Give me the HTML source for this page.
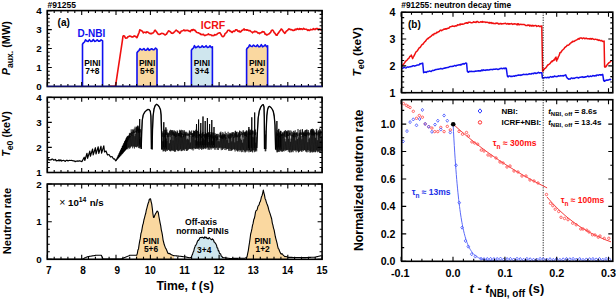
<!DOCTYPE html>
<html><head><meta charset="utf-8"><style>
html,body{margin:0;padding:0;background:#fff;width:616px;height:300px;overflow:hidden;position:relative}
</style></head><body>
<svg width="616" height="300" viewBox="0 0 616 300" style="position:absolute;left:0;top:0">
<g font-family='"Liberation Sans", sans-serif' font-weight="bold">
<path d="M82.5 86.5 L82.5 44.3 L83.5 42.8 L84.5 42 L85.5 39.8 L86.8 41.1 L88.1 41.5 L89.4 39.6 L90.7 41.4 L92 41.3 L93.3 39.5 L94.6 41.4 L95.9 41 L97.2 39.8 L98.5 41.1 L99.8 41.1 L101.1 39.8 L102.6 40.8 L102.6 86.5" fill="none" stroke="#1010F0" stroke-width="1.6" stroke-linejoin="round"/>
<path d="M137 86.5 L137 52.8 L138 51.3 L139 50.5 L140 48.7 L141.3 49.6 L142.6 49.7 L143.9 48.5 L145.2 50.3 L146.5 50 L147.8 48.3 L149.1 50.3 L150.4 49.5 L151.7 48.7 L153 49.7 L154.3 49.6 L155.6 48.1 L157 49.3 L157 86.5" fill="#FAD8A0" stroke="#1010F0" stroke-width="1.6" stroke-linejoin="round"/>
<path d="M191.4 86.5 L191.4 50.3 L192.4 48.8 L193.4 48 L194.4 45.7 L195.7 47.7 L197 47.1 L198.3 46 L199.6 47.5 L200.9 47.3 L202.2 45.9 L203.5 47.1 L204.8 47 L206.1 45.7 L207.4 47.5 L208.7 47.3 L210 45.8 L211.3 47.5 L212.4 46.8 L212.4 86.5" fill="#CFE6EE" stroke="#1010F0" stroke-width="1.6" stroke-linejoin="round"/>
<path d="M246.6 86.5 L246.6 49.3 L247.6 47.8 L248.6 47 L249.6 44.9 L250.9 46.2 L252.2 46.6 L253.5 45.1 L254.8 46.2 L256.1 46.5 L257.4 44.9 L258.7 46.7 L260 46.6 L261.3 44.7 L262.6 46.8 L263.9 46.1 L265.2 44.8 L266.5 46.6 L267.6 45.8 L267.6 86.5" fill="#FAD8A0" stroke="#1010F0" stroke-width="1.6" stroke-linejoin="round"/>
<path d="M109.7 86.3 L110.4 86.3 L111.1 86.3 L111.8 86.3 L112.5 86.3 L113.2 86.3 L113.9 86.3 L114.6 86.3 L115.3 86.3 L116 83 L116.7 78.3 L117.4 73.7 L118.1 69 L118.8 64.4 L119.5 59.8 L120.2 55.1 L120.9 50.5 L121.6 45.8 L122.3 41.2 L123 36.1 L123.7 35.7 L124.4 35.9 L125.1 37.4 L125.8 38.3 L126.5 38 L127.2 37.9 L127.9 36.7 L128.6 36.7 L129.3 36.1 L130 36.1 L130.7 36.2 L131.4 36.8 L132.1 37.1 L132.8 36.7 L133.5 36.8 L134.2 35.8 L134.9 36.3 L135.6 36.3 L136.3 37.3 L137 37.7 L137.7 35.9 L138.4 34.1 L139.1 32.5 L139.8 29.8 L140.5 30.2 L141.2 30.4 L141.9 31 L142.6 31.5 L143.3 33 L144 32.3 L144.7 32.3 L145.4 32.4 L146.1 32.9 L146.8 31.8 L147.5 32.1 L148.2 32.2 L148.9 33 L149.6 33.3 L150.3 33.7 L151 33.4 L151.7 33.8 L152.4 33 L153.1 33 L153.8 32.3 L154.5 30.7 L155.2 30.2 L155.9 31.1 L156.6 31.9 L157.3 33.1 L158 34 L158.7 34.4 L159.4 34.4 L160.1 34.3 L160.8 33.7 L161.5 33.4 L162.2 33.4 L162.9 33.6 L163.6 33.8 L164.3 34.4 L165 35 L165.7 34.5 L166.4 34.3 L167.1 33 L167.8 32 L168.5 30.9 L169.2 31 L169.9 31.6 L170.6 31.9 L171.3 33.1 L172 33 L172.7 33.4 L173.4 32.9 L174.1 32.1 L174.8 31.6 L175.5 30.6 L176.2 30 L176.9 30.7 L177.6 31.1 L178.3 31.9 L179 32 L179.7 33.4 L180.4 32.5 L181.1 31.3 L181.8 30.9 L182.5 30.7 L183.2 30.4 L183.9 29.9 L184.6 30.6 L185.3 30.7 L186 30.3 L186.7 30.5 L187.4 30.2 L188.1 30.5 L188.8 31 L189.5 31.1 L190.2 31.8 L190.9 30.5 L191.6 29.9 L192.3 30.5 L193 29.5 L193.7 29.5 L194.4 30.4 L195.1 30.2 L195.8 31.3 L196.5 32.3 L197.2 32.6 L197.9 32.8 L198.6 32.8 L199.3 33.4 L200 33.6 L200.7 34.5 L201.4 34.3 L202.1 34.8 L202.8 34.4 L203.5 34.4 L204.2 35.2 L204.9 35.6 L205.6 35.2 L206.3 34.9 L207 34.7 L207.7 34.4 L208.4 33.9 L209.1 34.6 L209.8 34.7 L210.5 34.7 L211.2 35 L211.9 35.7 L212.6 35.4 L213.3 35.6 L214 35.5 L214.7 34.6 L215.4 34.9 L216.1 34.8 L216.8 34.5 L217.5 33.6 L218.2 33.2 L218.9 33 L219.6 32.8 L220.3 33 L221 34.5 L221.7 35.7 L222.4 36.6 L223.1 36.8 L223.8 36.1 L224.5 35.3 L225.2 33.4 L225.9 33.1 L226.6 32.5 L227.3 31.3 L228 30.3 L228.7 30.3 L229.4 30.3 L230.1 31.4 L230.8 31.2 L231.5 32.1 L232.2 32.5 L232.9 31.4 L233.6 31.1 L234.3 31.4 L235 30.8 L235.7 29.8 L236.4 29.7 L237.1 30 L237.8 31.2 L238.5 31.4 L239.2 30.9 L239.9 32 L240.6 31.9 L241.3 31.1 L242 30.4 L242.7 30.3 L243.4 29.4 L244.1 28.9 L244.8 30.1 L245.5 29.8 L246.2 29.7 L246.9 30.3 L247.6 29.8 L248.3 30.3 L249 30.8 L249.7 30.5 L250.4 31 L251.1 31.6 L251.8 32 L252.5 32.8 L253.2 32 L253.9 31.9 L254.6 31.2 L255.3 31.8 L256 31.5 L256.7 31.9 L257.4 32.4 L258.1 33.1 L258.8 32.9 L259.5 33.6 L260.2 32.9 L260.9 32.7 L261.6 32.5 L262.3 31.6 L263 31.9 L263.7 31.7 L264.4 32.3 L265.1 34.1 L265.8 34.1 L266.5 34.9 L267.2 34.9 L267.9 34.5 L268.6 33.9 L269.3 33.7 L270 32.9 L270.7 32.3 L271.4 30.6 L272.1 30.3 L272.8 30.1 L273.5 31.1 L274.2 32.6 L274.9 33.2 L275.6 34.2 L276.3 35.3 L277 35.3 L277.7 33.8 L278.4 33.1 L279.1 32 L279.8 31 L280.5 30.3 L281.2 29 L281.9 29.5 L282.6 30.3 L283.3 31.7 L284 32.3 L284.7 33.3 L285.4 32.9 L286.1 31.3 L286.8 30.8 L287.5 30.5 L288.2 29.6 L288.9 28.9 L289.6 29.1 L290.3 29.7 L291 29.5 L291.7 29.9 L292.4 30 L293.1 30.5 L293.8 30.4 L294.5 30.3 L295.2 29.2 L295.9 29.7 L296.6 29.4 L297.3 28.6 L298 29.3 L298.7 29.4 L299.4 28.5 L300.1 29.3 L300.8 28.7 L301.5 28.8 L302.2 29.4 L302.9 29.2 L303.6 28.4 L304.3 29 L305 29.3 L305.7 29.3 L306.4 29.3 L307.1 29.7 L307.8 30.4 L308.5 29.8 L309.2 30.5 L309.9 30.2 L310.6 29.4 L311.3 29.6 L312 29.7 L312.7 29.4 L313.4 28.6 L314.1 29.5 L314.8 29.2 L315.5 29.5 L316.2 28.5 L316.9 28.8 L317.6 28.6 L318.3 29.6 L319 29.1 L319.7 29 L320.4 29.4 L321.1 29.9 L321.8 29.7" fill="none" stroke="#F01010" stroke-width="1.6" stroke-linejoin="round"/>
<path d="M47.3 86.5V82M47.3 10.6V15.1M54.2 86.5V84M54.2 10.6V13.1M61 86.5V84M61 10.6V13.1M67.9 86.5V84M67.9 10.6V13.1M74.8 86.5V84M74.8 10.6V13.1M81.7 86.5V82M81.7 10.6V15.1M88.5 86.5V84M88.5 10.6V13.1M95.4 86.5V84M95.4 10.6V13.1M102.3 86.5V84M102.3 10.6V13.1M109.1 86.5V84M109.1 10.6V13.1M116 86.5V82M116 10.6V15.1M122.9 86.5V84M122.9 10.6V13.1M129.7 86.5V84M129.7 10.6V13.1M136.6 86.5V84M136.6 10.6V13.1M143.5 86.5V84M143.5 10.6V13.1M150.4 86.5V82M150.4 10.6V15.1M157.2 86.5V84M157.2 10.6V13.1M164.1 86.5V84M164.1 10.6V13.1M171 86.5V84M171 10.6V13.1M177.8 86.5V84M177.8 10.6V13.1M184.7 86.5V82M184.7 10.6V15.1M191.6 86.5V84M191.6 10.6V13.1M198.4 86.5V84M198.4 10.6V13.1M205.3 86.5V84M205.3 10.6V13.1M212.2 86.5V84M212.2 10.6V13.1M219.1 86.5V82M219.1 10.6V15.1M225.9 86.5V84M225.9 10.6V13.1M232.8 86.5V84M232.8 10.6V13.1M239.7 86.5V84M239.7 10.6V13.1M246.5 86.5V84M246.5 10.6V13.1M253.4 86.5V82M253.4 10.6V15.1M260.3 86.5V84M260.3 10.6V13.1M267.1 86.5V84M267.1 10.6V13.1M274 86.5V84M274 10.6V13.1M280.9 86.5V84M280.9 10.6V13.1M287.8 86.5V82M287.8 10.6V15.1M294.6 86.5V84M294.6 10.6V13.1M301.5 86.5V84M301.5 10.6V13.1M308.4 86.5V84M308.4 10.6V13.1M315.2 86.5V84M315.2 10.6V13.1M322.1 86.5V82M322.1 10.6V15.1M47.3 86.5H51.8M322.1 86.5H317.6M47.3 82.7H49.8M322.1 82.7H319.6M47.3 78.9H49.8M322.1 78.9H319.6M47.3 75.1H49.8M322.1 75.1H319.6M47.3 71.3H49.8M322.1 71.3H319.6M47.3 67.5H51.8M322.1 67.5H317.6M47.3 63.7H49.8M322.1 63.7H319.6M47.3 59.9H49.8M322.1 59.9H319.6M47.3 56.1H49.8M322.1 56.1H319.6M47.3 52.3H49.8M322.1 52.3H319.6M47.3 48.5H51.8M322.1 48.5H317.6M47.3 44.8H49.8M322.1 44.8H319.6M47.3 41H49.8M322.1 41H319.6M47.3 37.2H49.8M322.1 37.2H319.6M47.3 33.4H49.8M322.1 33.4H319.6M47.3 29.6H51.8M322.1 29.6H317.6M47.3 25.8H49.8M322.1 25.8H319.6M47.3 22H49.8M322.1 22H319.6M47.3 18.2H49.8M322.1 18.2H319.6M47.3 14.4H49.8M322.1 14.4H319.6M47.3 10.6H51.8M322.1 10.6H317.6" stroke="#000" stroke-width="1.1" fill="none"/>
<rect x="47.3" y="10.6" width="274.8" height="75.9" fill="none" stroke="#000" stroke-width="1.6"/>
<text x="41.6" y="90" font-size="9.8" text-anchor="end">0</text>
<text x="41.6" y="71" font-size="9.8" text-anchor="end">1</text>
<text x="41.6" y="52" font-size="9.8" text-anchor="end">2</text>
<text x="41.6" y="33.1" font-size="9.8" text-anchor="end">3</text>
<text x="41.6" y="14.1" font-size="9.8" text-anchor="end">4</text>
<path d="M47.3 86.2H322.1" stroke="#1818b0" stroke-width="0.9"/>
<text x="57.6" y="25.8" font-size="10" font-weight="normal" style="font-weight:bold">(a)</text>
<text x="91.3" y="37.2" font-size="10" fill="#1010F0" text-anchor="middle">D-NBI</text>
<text x="213" y="29.1" font-size="10.5" fill="#F01010" text-anchor="middle">ICRF</text>
<text x="92.4" y="66.4" font-size="8.4" text-anchor="middle">PINI</text><text x="92.4" y="74.2" font-size="8.4" text-anchor="middle">7+8</text>
<text x="147.1" y="66.4" font-size="8.4" text-anchor="middle">PINI</text><text x="147.1" y="74.2" font-size="8.4" text-anchor="middle">5+6</text>
<text x="201.9" y="66.4" font-size="8.4" text-anchor="middle">PINI</text><text x="201.9" y="74.2" font-size="8.4" text-anchor="middle">3+4</text>
<text x="257.1" y="66.4" font-size="8.4" text-anchor="middle">PINI</text><text x="257.1" y="74.2" font-size="8.4" text-anchor="middle">1+2</text>
<text x="47.5" y="7.6" font-size="8.5">#91255</text>
<path d="M47.3 158.9 L48.2 158.8 L49.1 160.1 L50 159.7 L50.9 160 L51.8 159.1 L52.7 159.1 L53.6 160.2 L54.5 159.9 L55.4 159.4 L56.3 160.9 L57.2 160.5 L58.1 160.8 L59 159.7 L59.9 161 L60.8 159.8 L61.7 161.1 L62.6 160.5 L63.5 160.4 L64.4 160.8 L65.3 161.4 L66.2 160.4 L67.1 160.3 L68 161 L68.9 160.5 L69.8 160.4 L70.7 160.5 L71.6 160.4 L72.5 160.7 L73.4 160.9 L74.3 160.9 L75.2 161.7 L76.1 161 L77 161.3 L77.9 160.9 L78.8 161.2 L79.7 160.7 L80.6 161.1 L82 161.6 L84.2 157.2 L84.8 160.5 L87 153.3 L87.6 158.3 L89.8 151.1 L90.4 156.2 L92.6 149 L93.2 154.9 L95.4 147.7 L96 154 L98.2 146.8 L98.8 153.4 L101 146.2 L101.6 153.1 L103.8 145.9 L104.5 152 L106 151 L107.5 155 L109 154.5 L110.5 157 L112 156.5 L113.5 159 L114.5 158.8 L115.8 160.8 L116.2 160.5 L116.7 158.9 L117 159.5 L117.5 157.1 L117.8 158.6 L118.3 155.4 L118.6 157.7 L119.1 153.7 L119.4 156.7 L119.9 151.9 L120.2 155.8 L120.7 150.2 L121 154.9 L121.5 148.5 L121.8 153.9 L122.3 146.7 L122.6 153.1 L123.1 145.1 L123.4 152.2 L123.9 143.4 L124.2 151.3 L124.7 141.7 L125 150.4 L125.5 140 L125.8 149.5 L126.3 138.3 L126.6 148.7 L127.1 136.7" fill="none" stroke="#000" stroke-width="1.2" stroke-linejoin="round"/>
<path d="M127.1 136.7 L127 138 L127.3 148.5 L127.6 135.9 L127.9 149.3 L128.2 136.1 L128.5 147.7 L128.8 135.1 L129.1 147.4 L129.4 133.4 L129.7 148.8 L130 132.8 L130.3 147.8 L130.6 136.2 L130.9 146.9 L131.2 129.4 L131.5 146.2 L131.8 134.6 L132.1 146.4 L132.4 131.7 L132.7 148.3 L133 134.3 L133.3 146.6 L133.6 129.6 L133.9 146.4 L134.2 128.6 L134.5 148.5 L134.8 136.2 L135.1 146.6 L135.4 133.7 L135.7 146.9 L136 128.1 L136.3 147.2 L136.6 127.1 L136.9 147.3 L137.2 127.1 L137.5 146.4 L137.8 125.9 L138.1 146.4 L138.4 126.5 L138.7 148 L139 128.9 L139.3 148.4 L139.6 139.2 L139.9 147.8 L140.2 130.5 L140.5 147.4 L140.8 137.3 L141.1 147.3 L141.2 149 L141.7 132 L142.3 120 L143.2 115 L144.6 112.3 L146.2 110.6 L147.8 109.5 L149.2 109.6 L150.3 111.3 L150.9 116 L151.2 130 L151.4 149 L151.8 141 L152.1 149.9 L152.1 149 L152.5 130 L153.1 116 L154 109 L155.2 105.5 L156.6 104.3 L158 105.2 L159.4 107.2 L160.5 109.8 L161.1 115 L161.5 130 L161.8 149.5 L162.2 141.3 L162.5 149.6 L162.8 131.4 L163.1 151.5 L163.4 141.5 L163.7 150.9 L164 140.2 L164.3 151.2 L164.6 129.7 L164.9 149.8 L165.2 130 L165.5 151.7 L165.8 132.2 L166.1 151.2 L166.4 138.5 L166.7 149.7 L167 141.1 L167.3 151 L167.6 132.4 L167.9 149.8 L168.2 136.2 L168.5 149.8 L168.8 132.7 L169.1 150.1 L169.4 143.3 L169.7 150.9 L170 131.7 L170.3 151.3 L170.6 139.8 L170.9 151.2 L171.2 130.4 L171.5 150.1 L171.8 136.7 L172.1 150.9 L172.4 130 L172.7 150.1 L173 140.4 L173.3 151.1 L173.6 131.9 L173.9 150.5 L174.2 130.3 L174.5 151.6 L174.8 133.7 L175.1 151.7 L175.4 131.6 L175.7 151.4 L176 138 L176.3 149.9 L176.6 133.6 L176.9 149.7 L177.2 130.4 L177.5 150.5 L177.8 135 L178.1 151.2 L178.4 133.3 L178.7 150.9 L179 133.4 L179.3 150.3 L179.6 129.8 L179.9 150.3 L180.2 131 L180.5 149.3 L180.8 131.1 L181.1 151.1 L181.4 132.8 L181.7 151.1 L182 133.5 L182.3 150.7 L182.6 136.4 L182.9 149.8 L183.2 133.8 L183.5 150.3 L183.8 131.5 L184.1 149.5 L184.4 130.2 L184.7 150.9 L185 133.5 L185.3 149.3 L185.6 131.8 L185.9 149.1 L186.2 133.6 L186.5 150.9 L186.8 139.5 L187.1 150.9 L187.4 138.7 L187.7 150.3 L188 132.7 L188.3 149.6 L188.6 139.5 L188.9 149.1 L189.2 133.5 L189.5 148.6 L189.8 131.2 L190.1 149 L190.4 142.5 L190.7 148.8 L191 136.3 L191.3 149.5 L191.6 130.5 L191.9 148.5 L192.2 133.4 L192.5 149.3 L192.8 133.4 L193.1 150.5 L193.4 130.4 L193.7 148.4 L194 131.2 L194.3 148 L194.6 130.8 L194.9 149.2 L195.2 140.2 L195.5 148.8 L195.8 132 L196.1 148.7 L196.4 130.2 L196.7 148.4 L197 134.9 L197.3 149 L197.6 141.3 L197.9 148.2 L198.2 131.2 L198.5 148.7 L198.8 134.1 L199.1 149.8 L199.4 134.3 L199.7 147.7 L200 141.7 L200.3 148.8 L200.6 130.5 L200.9 148.6 L201.2 141.2 L201.5 149.8 L201.8 136.4 L202.1 147.8 L202.4 132.8 L202.7 149.3 L203 140.4 L203.3 149.2 L203.6 138.3 L203.9 148.9 L204.2 134.1 L204.5 148.1 L204.8 139.9 L205.1 148.3 L205.4 132.1 L205.7 149.1 L206 135.7 L206.3 147.6 L206.6 133.6 L206.9 148.4 L207.2 133.8 L207.5 147.4 L207.8 133.3 L208.1 149.9 L208.4 142 L208.7 148.6 L209 132.6 L209.3 149.9 L209.6 137.6 L209.9 147.4 L210.2 134.5 L210.5 148.4 L210.8 134.5 L211.1 149.7 L211.4 132 L211.7 148.2 L212 134.7 L212.3 147.8 L212.6 141.1 L212.9 148.6 L213.2 136 L213.5 148.1 L213.8 137.4 L214.1 147.8 L214.4 137.9 L214.7 149.7 L215 133.1 L215.3 147.8 L215.6 135.1 L215.9 149.7 L216.2 134.1 L216.5 147.8 L216.8 136.9 L217.1 147.4 L217.4 133.9 L217.7 149.7 L218 141.2 L218.3 150 L218.6 138.2 L218.9 147.9 L219.2 141.3 L219.5 147.6 L219.8 138.5 L220.1 148.5 L220.4 132.7 L220.7 147.6 L221 133.4 L221.3 150.2 L221.6 135.7 L221.9 148.3 L222.2 135.1 L222.5 149.9 L222.8 132 L223.1 149.1 L223.4 135.4 L223.7 148.4 L224 135.2 L224.3 148 L224.6 134.8 L224.9 150 L225.2 131.6 L225.5 148.2 L225.8 137.2 L226.1 150.1 L226.4 137.8 L226.7 148.9 L227 140.1 L227.3 148.9 L227.6 137.6 L227.9 149 L228.2 134.2 L228.5 150.7 L228.8 142.9 L229.1 148.5 L229.4 132.9 L229.7 150.9 L230 138.1 L230.3 149.2 L230.6 132.9 L230.9 151 L231.2 134 L231.5 150.5 L231.8 141.4 L232.1 150.3 L232.4 132 L232.7 149.7 L233 135.1 L233.3 149.3 L233.6 136.6 L233.9 149 L234.2 132.7 L234.5 149.8 L234.8 142.4 L235.1 151.5 L235.4 130.7 L235.7 149.3 L236 133.2 L236.3 150.2 L236.6 131.9 L236.9 150.7 L237.2 141.1 L237.5 151.4 L237.8 135.2 L238.1 151.4 L238.4 132.3 L238.7 150.3 L239 135.8 L239.3 150 L239.6 130.5 L239.9 151.7 L240.2 131.2 L240.5 150.5 L240.8 138.7 L241.1 150.1 L241.4 140.1 L241.7 152.2 L242 131.6 L242.3 151.8 L242.6 142.7 L242.9 149.8 L243.2 130 L243.5 150.2 L243.8 139.3 L244.1 152.2 L244.4 132.9 L244.7 151 L245 132.4 L245.3 152.4 L245.6 131.6 L245.9 151.6 L246.2 130.7 L246.5 150.4 L246.8 130.2 L247.1 151.6 L247.4 135.3 L247.7 150.2 L248 131.7 L248.3 150.7 L248.6 129.8 L248.9 152.3 L249.2 129.3 L249.5 150.4 L249.8 131.3 L250.1 151.8 L250.4 129.7 L250.7 152 L251 130.2 L251.3 151 L251.6 136.4 L251.9 151.6 L252.2 130.8 L252.5 152.4 L252.8 137 L253.1 150.6 L253.4 135.3 L253.7 150.1 L254 137.6 L254.3 152.2 L254.6 132.7 L254.9 151.3 L255.2 129.3 L255.5 151.5 L255.8 142.7 L256.1 150.3 L256.4 137.1 L256.7 151.4 L256.8 148 L257.4 132 L258.2 118 L259.3 111 L260.7 107.2 L262.2 105 L263.3 104.6 L264 107 L264.3 118 L264.5 149 L264.9 130.6 L265.2 151.3 L265.5 134.6 L265.8 151.2 L265.8 149 L266.2 130 L266.8 116 L267.6 109.5 L268.6 106.8 L269.6 106.4 L271 107.5 L272.4 109.5 L273.3 111.5 L274.2 116 L275 125 L275.6 149.5 L276 143.4 L276.3 150.3 L276.6 133.6 L276.9 152.3 L277.2 130.1 L277.5 152.2 L277.8 133.5 L278.1 151.4 L278.4 135.4 L278.7 151.8 L279 131.5 L279.3 151.9 L279.6 135.7 L279.9 150.3 L280.2 132 L280.5 150.7 L280.8 131 L281.1 151.6 L281.4 134.3 L281.7 151.2 L282 134.3 L282.3 151.9 L282.6 132.4 L282.9 151.1 L283.2 136.9 L283.5 150.8 L283.8 131.6 L284.1 151.4 L284.4 131.7 L284.7 149.8 L285 138.7 L285.3 150.3 L285.6 141.5 L285.9 150.9 L286.2 131.7 L286.5 150 L286.8 131.5 L287.1 150 L287.4 131.8 L287.7 149.9 L288 134.6 L288.3 151.7 L288.6 138.8 L288.9 149.9 L289.2 131.2 L289.5 152.3 L289.8 133.1 L290.1 152.4 L290.4 141.8 L290.7 150.3 L291 138.6 L291.3 152.3 L291.6 135.3 L291.9 151.9 L292.2 134.3 L292.5 150.7 L292.8 135.2 L293.1 152.2 L293.4 132.8 L293.7 150.2 L294 133.2 L294.3 150.4 L294.6 131.6 L294.9 150.7 L295.2 130.2 L295.5 150.3 L295.8 140.4 L296.1 152.2 L296.4 132.6 L296.7 150.2 L297 132 L297.3 150.8 L297.6 139.1 L297.9 151.4 L298.2 134.5 L298.5 152.5 L298.8 137.4 L299.1 152 L299.4 133.3 L299.7 151.4 L300 132.4 L300.3 151.1 L300.6 132.3 L300.9 150.1 L301.2 135.9 L301.5 151.6 L301.8 139.3 L302.1 151.7 L302.4 129.2 L302.7 150 L303 131.7 L303.3 151.1 L303.6 132.8 L303.9 150.3 L304.2 131.8 L304.5 150 L304.8 130.6 L305.1 150.3 L305.4 130 L305.7 151.5 L306 129.9 L306.3 151.6 L306.6 129.6 L306.9 152.4 L307.2 129.7 L307.5 150.3 L307.8 142.2 L308.1 152.1 L308.4 130.1 L308.7 150.1 L309 138.9 L309.3 150.9 L309.6 137.7 L309.9 152.5 L310.2 135.6 L310.5 152.4 L310.8 131 L311.1 151.1 L311.4 129.1 L311.7 152.1 L312 131.1 L312.3 152.5 L312.6 129.7 L312.9 151.7 L313.2 131.4 L313.5 152.2 L313.8 130 L314.1 150.9 L314.4 132.3 L314.7 152.1 L315 132.9 L315.3 152.3 L315.6 137.8 L315.9 152 L316.2 129.6 L316.5 150.4 L316.8 128.9 L317.1 151 L317.4 140.2 L317.7 152.3 L318 135.6 L318.3 151.6 L318.6 131.8 L318.9 151.5 L319.2 131.2 L319.5 152.7 L319.8 132.1 L320.1 150.2 L320.4 129.5 L320.7 152.1 L321 140.7 L321.3 151 L321.6 136.2 L321.9 150.8" fill="none" stroke="#000" stroke-width="0.52" stroke-linejoin="miter"/>
<path d="M127 139.1 L127.3 142 L127.9 136.4 L128.2 140.4 L128.8 136.1 L129.2 138.1 L129.7 133.8 L130.1 137.1 L130.6 133 L131 135.5 L131.5 131.9 L131.9 135.5 L132.4 129.4 L132.8 134 L133.3 130.5 L133.7 133.2 L134.2 131.6 L134.6 132.9 L135.1 126.7 L135.5 132.4 L136 130.8 L136.4 132.7 L136.9 126.4 L137.3 131.3 L137.8 125.5 L138.2 132.8 L138.7 128.4 L139.1 132.8 L139.6 129.4 L140 131.4 L140.5 129.2 L140.9 132.8" fill="none" stroke="#000" stroke-width="0.55"/>
<path d="M162.4 132.9 L162.8 136.8 L163.3 133.4 L163.7 134.6 L164.2 133.3 L164.6 137.2 L165.1 133.8 L165.5 134.9 L166 130.2 L166.4 135 L166.9 129.5 L167.3 137.3 L167.8 133.4 L168.2 136.7 L168.7 133.4 L169.1 136.7 L169.6 130.7 L170 135.1 L170.5 129.8 L170.9 137.1 L171.4 130.3 L171.8 135.8 L172.3 131.4 L172.7 134.9 L173.2 130.6 L173.6 135.6 L174.1 132.9 L174.5 135.9 L175 130.9 L175.4 137.7 L175.9 131.8 L176.3 137.4 L176.8 132.4 L177.2 134.9 L177.7 131.4 L178.1 136.1 L178.6 133.2 L179 135.8 L179.5 132.8 L179.9 136.4 L180.4 130.4 L180.8 137.4 L181.3 129.8 L181.7 137.3 L182.2 130.2 L182.6 134.8 L183.1 130.3 L183.5 137.1 L184 134.2 L184.4 134.8 L184.9 131.8 L185.3 136.3 L185.8 133.3 L186.2 135.4 L186.7 131.8 L187.1 135.8 L187.6 133.5 L188 135.6 L188.5 134 L188.9 135.7 L189.4 130.4 L189.8 136.9 L190.3 131.8 L190.7 135.1 L191.2 132.5 L191.6 135 L192.1 133.2 L192.5 136.9 L193 133.2 L193.4 136.7 L193.9 131.1 L194.3 136 L194.8 131.3 L195.2 137.5 L195.7 129.8 L196.1 137.6 L196.6 129.6 L197 135.6 L197.5 130.9 L197.9 137.8 L198.4 132.2 L198.8 136.4 L199.3 134.3 L199.7 136.1 L200.2 132.3 L200.6 137.1 L201.1 133.9 L201.5 137.8 L202 133.4 L202.4 136.7 L202.9 131.9 L203.3 136.3 L203.8 134.6 L204.2 137.9 L204.7 134.3 L205.1 136.6 L205.6 132.9 L206 138.5 L206.5 133.7 L206.9 136.7 L207.4 133.2 L207.8 139 L208.3 132.2 L208.7 137.1 L209.2 132.6 L209.6 138.7 L210.1 135.5 L210.5 137.2 L211 132.1 L211.4 137.6 L211.9 133.1 L212.3 138.5 L212.8 132.4 L213.2 138.1 L213.7 132.7 L214.1 140.1 L214.6 135.5 L215 137.6 L215.5 136.7 L215.9 137.7 L216.4 133.9 L216.8 140.4 L217.3 135.8 L217.7 139.6 L218.2 133.9 L218.6 137.8 L219.1 134.9 L219.5 137.5 L220 132.6 L220.4 138.2 L220.9 131.6 L221.3 138.2 L221.8 135.3 L222.2 138.9 L222.7 133.8 L223.1 138.7 L223.6 133.5 L224 137.1 L224.5 134.1 L224.9 137.8 L225.4 134.7 L225.8 139.2 L226.3 133 L226.7 138.1 L227.2 134.5 L227.6 137.5 L228.1 131.8 L228.5 138.3 L229 135 L229.4 138.4 L229.9 134 L230.3 138.5 L230.8 133.8 L231.2 137.8 L231.7 132.6 L232.1 136.7 L232.6 133.3 L233 136 L233.5 132.2 L233.9 137.9 L234.4 133.6 L234.8 137.4 L235.3 131.1 L235.7 136.7 L236.2 132.1 L236.6 137.2 L237.1 131.7 L237.5 137.2 L238 134.2 L238.4 135.6 L238.9 132.8 L239.3 137.3 L239.8 131.3 L240.2 136.4 L240.7 134.2 L241.1 134.9 L241.6 131.9 L242 135.2 L242.5 133 L242.9 137.4 L243.4 131.6 L243.8 134.8 L244.3 131.8 L244.7 136 L245.2 132.4 L245.6 135.8 L246.1 131.9 L246.5 136.7 L247 131.2 L247.4 135.3 L247.9 133.3 L248.3 134.6 L248.8 131.9 L249.2 135.2 L249.7 132.4 L250.1 134.4 L250.6 133.5 L251 135.1 L251.5 128.9 L251.9 134.9 L252.4 130.6 L252.8 134.2 L253.3 130.7 L253.7 135.4 L254.2 132.2 L254.6 135.2 L255.1 130 L255.5 134.9 L256 132.4 L256.4 137.1" fill="none" stroke="#000" stroke-width="0.55"/>
<path d="M276.4 132 L276.8 135.5 L277.3 133.4 L277.7 136 L278.2 130.4 L278.6 135.3 L279.1 133.3 L279.5 137.3 L280 132.6 L280.4 136.3 L280.9 132.3 L281.3 135.6 L281.8 134.3 L282.2 136.1 L282.7 132.7 L283.1 137.4 L283.6 133.5 L284 136.3 L284.5 130.9 L284.9 136.6 L285.4 130 L285.8 137.4 L286.3 131.1 L286.7 137.4 L287.2 130.6 L287.6 135.9 L288.1 130.5 L288.5 136 L289 130.2 L289.4 134.7 L289.9 132.8 L290.3 135.5 L290.8 130.4 L291.2 135.6 L291.7 131.5 L292.1 135.9 L292.6 132.3 L293 136.6 L293.5 130.9 L293.9 137.4 L294.4 133.3 L294.8 134.7 L295.3 133.1 L295.7 137.2 L296.2 132.9 L296.6 134.9 L297.1 133.1 L297.5 136.3 L298 129 L298.4 134.4 L298.9 133.6 L299.3 136.3 L299.8 130.1 L300.2 134.6 L300.7 129.5 L301.1 135 L301.6 132.6 L302 135.3 L302.5 129.5 L302.9 136.9 L303.4 132.7 L303.8 134.7 L304.3 133.1 L304.6 136 L305.2 132.5 L305.5 136.1 L306.1 133.1 L306.4 136.5 L307 132.8 L307.3 134.7 L307.9 132 L308.2 135.6 L308.8 132.2 L309.1 135.3 L309.7 132.9 L310 135.6 L310.6 129.7 L310.9 134.6 L311.5 129.1 L311.8 135.4 L312.4 128.7 L312.7 135.3 L313.3 129 L313.6 135.3 L314.2 130.8 L314.5 135.4 L315.1 132.6 L315.4 133.8 L316 132.4 L316.3 135.1 L316.9 131 L317.2 135.7 L317.8 132.4 L318.1 134.8 L318.7 130.2 L319 136.5 L319.6 128.5 L319.9 135.5 L320.5 131.2 L320.8 133.6 L321.4 131.1 L321.7 135.6" fill="none" stroke="#000" stroke-width="0.55"/>
<path d="M139.2 144.6L139.7 119L140.1 146.6M163.3 147.2L163.8 122.2L164.2 149.2M165.4 147.4L165.9 127.4L166.3 149.4M196 145.5L196.5 124L196.9 147.5M198.1 145.4L198.6 119.5L199 147.4M200.3 145.4L200.8 123L201.2 147.4M202.5 145.3L203 116.5L203.4 147.3M204.7 145.3L205.2 121L205.6 147.3M206.9 145.2L207.4 118L207.8 147.2M209.1 145.2L209.6 124L210 147.2M211.3 145.1L211.8 120L212.2 147.1M213.5 145L214 127L214.4 147M248.4 148L248.9 127L249.3 150M251.3 147.9L251.8 117.3L252.2 149.9M254.2 147.9L254.7 112.5L255.1 149.9M276.4 147.6L276.9 121L277.3 149.6M278.3 147.5L278.8 128.9L279.2 149.5M280.2 147.5L280.7 130.8L281.1 149.5" fill="none" stroke="#000" stroke-width="0.9" stroke-linejoin="round"/>
<path d="M141.2 149 L141.7 132 L142.3 120 L143.2 115 L144.6 112.3 L146.2 110.6 L147.8 109.5 L149.2 109.6 L150.3 111.3 L150.9 116 L151.2 130 L151.4 149" fill="none" stroke="#000" stroke-width="1.3" stroke-linejoin="round"/>
<path d="M152.1 149 L152.5 130 L153.1 116 L154 109 L155.2 105.5 L156.6 104.3 L158 105.2 L159.4 107.2 L160.5 109.8 L161.1 115 L161.5 130 L161.8 149.5" fill="none" stroke="#000" stroke-width="1.3" stroke-linejoin="round"/>
<path d="M256.8 148 L257.4 132 L258.2 118 L259.3 111 L260.7 107.2 L262.2 105 L263.3 104.6 L264 107 L264.3 118 L264.5 149" fill="none" stroke="#000" stroke-width="1.3" stroke-linejoin="round"/>
<path d="M265.8 149 L266.2 130 L266.8 116 L267.6 109.5 L268.6 106.8 L269.6 106.4 L271 107.5 L272.4 109.5 L273.3 111.5 L274.2 116 L275 125 L275.6 149.5" fill="none" stroke="#000" stroke-width="1.3" stroke-linejoin="round"/>
<path d="M47.3 172.5V168M47.3 97.3V101.8M54.2 172.5V170M54.2 97.3V99.8M61 172.5V170M61 97.3V99.8M67.9 172.5V170M67.9 97.3V99.8M74.8 172.5V170M74.8 97.3V99.8M81.7 172.5V168M81.7 97.3V101.8M88.5 172.5V170M88.5 97.3V99.8M95.4 172.5V170M95.4 97.3V99.8M102.3 172.5V170M102.3 97.3V99.8M109.1 172.5V170M109.1 97.3V99.8M116 172.5V168M116 97.3V101.8M122.9 172.5V170M122.9 97.3V99.8M129.7 172.5V170M129.7 97.3V99.8M136.6 172.5V170M136.6 97.3V99.8M143.5 172.5V170M143.5 97.3V99.8M150.4 172.5V168M150.4 97.3V101.8M157.2 172.5V170M157.2 97.3V99.8M164.1 172.5V170M164.1 97.3V99.8M171 172.5V170M171 97.3V99.8M177.8 172.5V170M177.8 97.3V99.8M184.7 172.5V168M184.7 97.3V101.8M191.6 172.5V170M191.6 97.3V99.8M198.4 172.5V170M198.4 97.3V99.8M205.3 172.5V170M205.3 97.3V99.8M212.2 172.5V170M212.2 97.3V99.8M219.1 172.5V168M219.1 97.3V101.8M225.9 172.5V170M225.9 97.3V99.8M232.8 172.5V170M232.8 97.3V99.8M239.7 172.5V170M239.7 97.3V99.8M246.5 172.5V170M246.5 97.3V99.8M253.4 172.5V168M253.4 97.3V101.8M260.3 172.5V170M260.3 97.3V99.8M267.1 172.5V170M267.1 97.3V99.8M274 172.5V170M274 97.3V99.8M280.9 172.5V170M280.9 97.3V99.8M287.8 172.5V168M287.8 97.3V101.8M294.6 172.5V170M294.6 97.3V99.8M301.5 172.5V170M301.5 97.3V99.8M308.4 172.5V170M308.4 97.3V99.8M315.2 172.5V170M315.2 97.3V99.8M322.1 172.5V168M322.1 97.3V101.8M47.3 172.5H51.8M322.1 172.5H317.6M47.3 167.5H49.8M322.1 167.5H319.6M47.3 162.5H49.8M322.1 162.5H319.6M47.3 157.5H49.8M322.1 157.5H319.6M47.3 152.4H49.8M322.1 152.4H319.6M47.3 147.4H51.8M322.1 147.4H317.6M47.3 142.4H49.8M322.1 142.4H319.6M47.3 137.4H49.8M322.1 137.4H319.6M47.3 132.4H49.8M322.1 132.4H319.6M47.3 127.4H49.8M322.1 127.4H319.6M47.3 122.4H51.8M322.1 122.4H317.6M47.3 117.4H49.8M322.1 117.4H319.6M47.3 112.3H49.8M322.1 112.3H319.6M47.3 107.3H49.8M322.1 107.3H319.6M47.3 102.3H49.8M322.1 102.3H319.6M47.3 97.3H51.8M322.1 97.3H317.6" stroke="#000" stroke-width="1.1" fill="none"/>
<rect x="47.3" y="97.3" width="274.8" height="75.2" fill="none" stroke="#000" stroke-width="1.6"/>
<text x="41.6" y="176" font-size="9.8" text-anchor="end">1</text>
<text x="41.6" y="150.9" font-size="9.8" text-anchor="end">2</text>
<text x="41.6" y="125.9" font-size="9.8" text-anchor="end">3</text>
<text x="41.6" y="100.8" font-size="9.8" text-anchor="end">4</text>
<path d="M135.5 259.3 L136.1 255.2 L136.7 255.2 L137.3 253.6 L137.9 250.1 L138.5 248.9 L139.1 244.6 L139.7 241.1 L140.3 238.4 L140.9 233.7 L141.5 231.9 L142.1 228.7 L142.7 225.2 L143.3 223.3 L143.9 220 L144.5 217.8 L145.1 215.4 L145.7 213.5 L146.3 210.1 L146.9 208.1 L147.5 205.7 L148.1 203.5 L148.7 202 L149.3 199.5 L149.9 198.9 L150.5 198.7 L151.1 201.6 L151.7 203.9 L152.3 208.4 L152.9 213.6 L153.5 217.4 L154.1 217.4 L154.7 215.5 L155.3 214.3 L155.9 213.1 L156.5 212.3 L157.1 211.1 L157.7 211.4 L158.3 212.6 L158.9 216.5 L159.5 219.7 L160.1 222.8 L160.7 225.7 L161.3 229.8 L161.9 232.4 L162.5 235.7 L163.1 240.1 L163.7 242.5 L164.3 244.8 L164.9 246.4 L165.5 248 L166.1 248.9 L166.7 250.3 L167.3 251.7 L167.9 253.3 L168.5 253.4 L169.1 253.8 L169.7 253.3 L170.3 254.1 L170.9 254.4 L171.5 254.7 L172.1 255 L172.7 255.3 L173.3 255.5 L173.9 255.6 L174 259.3" fill="#FAD8A0" stroke="none"/>
<path d="M191 259.3 L191.3 257.2 L191.9 255.6 L192.5 254.3 L193.1 252.3 L193.7 251.3 L194.3 248.5 L194.9 247 L195.5 245.2 L196.1 244.9 L196.7 243.5 L197.3 241.8 L197.9 240.4 L198.5 240.4 L199.1 239.4 L199.7 238.1 L200.3 237.5 L200.9 237.5 L201.5 237.6 L202.1 237.3 L202.7 237.4 L203.3 237.8 L203.9 238.4 L204.5 236.9 L205.1 237.9 L205.7 237 L206.3 237.2 L206.9 238.5 L207.5 238.2 L208.1 239 L208.7 238.2 L209.3 237.5 L209.9 238.3 L210.5 238.8 L211.1 239.5 L211.7 239.7 L212.3 238.9 L212.9 239.5 L213.5 240 L214.1 242 L214.7 242.3 L215.3 243.2 L215.9 244 L216.5 245.2 L217.1 247.8 L217.7 248.1 L218.3 251 L218.9 250.8 L219.5 253.5 L220.1 253.5 L220.7 254.2 L221.3 256.3 L221.9 256.3 L222.5 257.5 L222.5 259.3" fill="#CFE6EE" stroke="none"/>
<path d="M246.5 259.3 L247.1 256.4 L247.7 253.3 L248.3 250.6 L248.9 246.4 L249.5 242.7 L250.1 238.4 L250.7 233.8 L251.3 231.7 L251.9 228.9 L252.5 225.4 L253.1 223.4 L253.7 219.8 L254.3 218.6 L254.9 215.8 L255.5 212.1 L256.1 210.6 L256.7 210.3 L257.3 209.2 L257.9 206.5 L258.5 205.5 L259.1 204.8 L259.7 202.3 L260.3 201.7 L260.9 199.3 L261.5 196.7 L262.1 195.5 L262.7 193.1 L263.3 190.1 L263.9 192.8 L264.5 195.2 L265.1 198.7 L265.7 199.8 L266.3 202.1 L266.9 203.8 L267.5 205.3 L268.1 207 L268.7 209.5 L269.3 211.6 L269.9 213.1 L270.5 215.1 L271.1 217 L271.7 219 L272.3 223.1 L272.9 225.2 L273.5 228.1 L274.1 229.9 L274.7 233.1 L275.3 236.5 L275.9 238.9 L276.5 241.2 L277.1 243.4 L277.7 246.3 L278.3 248.6 L278.9 249.1 L279.5 251.1 L280.1 252.3 L280.7 253.5 L281.3 254.1 L281.9 253.8 L282.5 254 L283.1 255.1 L283.7 255.6 L284.3 256.1 L284.9 256.7 L285.5 256.4 L286.1 256.6 L286.7 256.8 L287 259.3" fill="#FAD8A0" stroke="none"/>
<path d="M47.3 259.3 L47.9 259.3 L48.5 259.3 L49.1 259.3 L49.7 259.3 L50.3 259.3 L50.9 259.3 L51.5 259.3 L52.1 259.3 L52.7 259.3 L53.3 259.3 L53.9 259.3 L54.5 259.3 L55.1 259.3 L55.7 259.3 L56.3 259.3 L56.9 259.3 L57.5 259.3 L58.1 259.3 L58.7 259.3 L59.3 259.3 L59.9 259.3 L60.5 259.3 L61.1 259.3 L61.7 259.3 L62.3 259.3 L62.9 259.3 L63.5 259.3 L64.1 259.3 L64.7 259.3 L65.3 259.3 L65.9 259.3 L66.5 259.3 L67.1 259.3 L67.7 259.3 L68.3 259.3 L68.9 259.3 L69.5 259.3 L70.1 259.3 L70.7 259.3 L71.3 259.3 L71.9 259.3 L72.5 259.3 L73.1 259.3 L73.7 259.3 L74.3 259.3 L74.9 259.3 L75.5 259.3 L76.1 259.3 L76.7 259.3 L77.3 259.3 L77.9 259.3 L78.5 259.3 L79.1 259.3 L79.7 259.3 L80.3 259.3 L80.9 259.3 L81.5 259.3 L82.1 259.2 L82.7 258.9 L83.3 258.7 L83.9 258.4 L84.5 258.1 L85.1 257.8 L85.7 257.6 L86.3 257.3 L86.9 257 L87.5 256.7 L88.1 256.6 L88.7 256.5 L89.3 256.4 L89.9 256.3 L90.5 256.2 L91.1 256.1 L91.7 256 L92.3 255.9 L92.9 255.8 L93.5 255.7 L94.1 255.6 L94.7 255.5 L95.3 255.4 L95.9 255.3 L96.5 255.3 L97.1 255.3 L97.7 255.3 L98.3 255.3 L98.9 255.3 L99.5 255.3 L100.1 255.3 L100.7 255.3 L101.3 255.3 L101.9 256.5 L102.5 257.8 L103.1 259 L103.7 259 L104.3 259 L104.9 259 L105.5 259 L106.1 259 L106.7 259 L107.3 259 L107.9 259 L108.5 259 L109.1 259 L109.7 259 L110.3 259 L110.9 259 L111.5 259 L112.1 259 L112.7 259 L113.3 259 L113.9 259 L114.5 259 L115.1 259 L115.7 259 L116.3 259 L116.9 259 L117.5 259 L118.1 259 L118.7 259 L119.3 259 L119.9 259 L120.5 259 L121.1 258.9 L121.7 258.7 L122.3 258.4 L122.9 258.2 L123.5 257.9 L124.1 257.7 L124.7 257.4 L125.3 257.2 L125.9 256.9 L126.5 256.7 L127.1 256.4 L127.7 256.2 L128.3 255.9 L128.9 255.7 L129.5 255.4 L130.1 255.3 L130.7 255.3 L131.3 255.3 L131.9 255.3 L132.5 255.3 L133.1 255.3 L133.7 255.2 L134.3 255.2 L134.9 255.2 L135.5 255.2 L136.1 255.2 L136.7 255.2 L137.3 253.6 L137.9 250.1 L138.5 248.9 L139.1 244.6 L139.7 241.1 L140.3 238.4 L140.9 233.7 L141.5 231.9 L142.1 228.7 L142.7 225.2 L143.3 223.3 L143.9 220 L144.5 217.8 L145.1 215.4 L145.7 213.5 L146.3 210.1 L146.9 208.1 L147.5 205.7 L148.1 203.5 L148.7 202 L149.3 199.5 L149.9 198.9 L150.5 198.7 L151.1 201.6 L151.7 203.9 L152.3 208.4 L152.9 213.6 L153.5 217.4 L154.1 217.4 L154.7 215.5 L155.3 214.3 L155.9 213.1 L156.5 212.3 L157.1 211.1 L157.7 211.4 L158.3 212.6 L158.9 216.5 L159.5 219.7 L160.1 222.8 L160.7 225.7 L161.3 229.8 L161.9 232.4 L162.5 235.7 L163.1 240.1 L163.7 242.5 L164.3 244.8 L164.9 246.4 L165.5 248 L166.1 248.9 L166.7 250.3 L167.3 251.7 L167.9 253.3 L168.5 253.4 L169.1 253.8 L169.7 253.3 L170.3 254.1 L170.9 254.4 L171.5 254.7 L172.1 255 L172.7 255.3 L173.3 255.5 L173.9 255.6 L174.5 255.7 L175.1 255.7 L175.7 255.8 L176.3 255.9 L176.9 255.9 L177.5 256 L178.1 256.1 L178.7 256.1 L179.3 256.2 L179.9 256.3 L180.5 256.3 L181.1 256.4 L181.7 256.5 L182.3 256.5 L182.9 256.6 L183.5 256.7 L184.1 256.7 L184.7 256.8 L185.3 256.9 L185.9 257 L186.5 257.1 L187.1 257.2 L187.7 257.4 L188.3 257.5 L188.9 257.6 L189.5 257.7 L190.1 257.8 L190.7 257.6 L191.3 257.2 L191.9 255.6 L192.5 254.3 L193.1 252.3 L193.7 251.3 L194.3 248.5 L194.9 247 L195.5 245.2 L196.1 244.9 L196.7 243.5 L197.3 241.8 L197.9 240.4 L198.5 240.4 L199.1 239.4 L199.7 238.1 L200.3 237.5 L200.9 237.5 L201.5 237.6 L202.1 237.3 L202.7 237.4 L203.3 237.8 L203.9 238.4 L204.5 236.9 L205.1 237.9 L205.7 237 L206.3 237.2 L206.9 238.5 L207.5 238.2 L208.1 239 L208.7 238.2 L209.3 237.5 L209.9 238.3 L210.5 238.8 L211.1 239.5 L211.7 239.7 L212.3 238.9 L212.9 239.5 L213.5 240 L214.1 242 L214.7 242.3 L215.3 243.2 L215.9 244 L216.5 245.2 L217.1 247.8 L217.7 248.1 L218.3 251 L218.9 250.8 L219.5 253.5 L220.1 253.5 L220.7 254.2 L221.3 256.3 L221.9 256.3 L222.5 257.5 L223.1 257.6 L223.7 257.7 L224.3 257.7 L224.9 257.8 L225.5 257.9 L226.1 258 L226.7 258.1 L227.3 258.1 L227.9 258.2 L228.5 258.3 L229.1 258.4 L229.7 258.5 L230.3 258.5 L230.9 258.5 L231.5 258.5 L232.1 258.5 L232.7 258.4 L233.3 258.4 L233.9 258.4 L234.5 258.4 L235.1 258.4 L235.7 258.4 L236.3 258.4 L236.9 258.4 L237.5 258.4 L238.1 258.3 L238.7 258.3 L239.3 258.3 L239.9 258.3 L240.5 258.3 L241.1 258.3 L241.7 258.3 L242.3 258.3 L242.9 258.2 L243.5 258.2 L244.1 258.2 L244.7 258.2 L245.3 258 L245.9 257.7 L246.5 257.7 L247.1 256.4 L247.7 253.3 L248.3 250.6 L248.9 246.4 L249.5 242.7 L250.1 238.4 L250.7 233.8 L251.3 231.7 L251.9 228.9 L252.5 225.4 L253.1 223.4 L253.7 219.8 L254.3 218.6 L254.9 215.8 L255.5 212.1 L256.1 210.6 L256.7 210.3 L257.3 209.2 L257.9 206.5 L258.5 205.5 L259.1 204.8 L259.7 202.3 L260.3 201.7 L260.9 199.3 L261.5 196.7 L262.1 195.5 L262.7 193.1 L263.3 190.1 L263.9 192.8 L264.5 195.2 L265.1 198.7 L265.7 199.8 L266.3 202.1 L266.9 203.8 L267.5 205.3 L268.1 207 L268.7 209.5 L269.3 211.6 L269.9 213.1 L270.5 215.1 L271.1 217 L271.7 219 L272.3 223.1 L272.9 225.2 L273.5 228.1 L274.1 229.9 L274.7 233.1 L275.3 236.5 L275.9 238.9 L276.5 241.2 L277.1 243.4 L277.7 246.3 L278.3 248.6 L278.9 249.1 L279.5 251.1 L280.1 252.3 L280.7 253.5 L281.3 254.1 L281.9 253.8 L282.5 254 L283.1 255.1 L283.7 255.6 L284.3 256.1 L284.9 256.7 L285.5 256.4 L286.1 256.6 L286.7 256.8 L287.3 257 L287.9 257.3 L288.5 257.4 L289.1 257.4 L289.7 257.4 L290.3 257.4 L290.9 257.4 L291.5 257.4 L292.1 257.4 L292.7 257.5 L293.3 257.5 L293.9 257.5 L294.5 257.5 L295.1 257.5 L295.7 257.5 L296.3 257.5 L296.9 257.5 L297.5 257.5 L298.1 257.5 L298.7 257.5 L299.3 257.5 L299.9 257.5 L300.5 257.5 L301.1 257.6 L301.7 257.6 L302.3 257.6 L302.9 257.6 L303.5 257.6 L304.1 257.6 L304.7 257.6 L305.3 257.6 L305.9 257.6 L306.5 257.5 L307.1 257.5 L307.7 257.5 L308.3 257.5 L308.9 257.4 L309.5 257.4 L310.1 257.4 L310.7 257.4 L311.3 257.3 L311.9 257.3 L312.5 257.3 L313.1 257.3 L313.7 257.3 L314.3 257.2 L314.9 257.2 L315.5 257.1 L316.1 256.9 L316.7 256.8 L317.3 256.6 L317.9 256.5 L318.5 256.3 L319.1 256.2 L319.7 256 L320.3 255.9 L320.9 255.7 L321.5 255.6" fill="none" stroke="#000" stroke-width="1.1" stroke-linejoin="round"/>
<path d="M47.3 259.3V254.8M47.3 184V188.5M54.2 259.3V256.8M54.2 184V186.5M61 259.3V256.8M61 184V186.5M67.9 259.3V256.8M67.9 184V186.5M74.8 259.3V256.8M74.8 184V186.5M81.7 259.3V254.8M81.7 184V188.5M88.5 259.3V256.8M88.5 184V186.5M95.4 259.3V256.8M95.4 184V186.5M102.3 259.3V256.8M102.3 184V186.5M109.1 259.3V256.8M109.1 184V186.5M116 259.3V254.8M116 184V188.5M122.9 259.3V256.8M122.9 184V186.5M129.7 259.3V256.8M129.7 184V186.5M136.6 259.3V256.8M136.6 184V186.5M143.5 259.3V256.8M143.5 184V186.5M150.4 259.3V254.8M150.4 184V188.5M157.2 259.3V256.8M157.2 184V186.5M164.1 259.3V256.8M164.1 184V186.5M171 259.3V256.8M171 184V186.5M177.8 259.3V256.8M177.8 184V186.5M184.7 259.3V254.8M184.7 184V188.5M191.6 259.3V256.8M191.6 184V186.5M198.4 259.3V256.8M198.4 184V186.5M205.3 259.3V256.8M205.3 184V186.5M212.2 259.3V256.8M212.2 184V186.5M219.1 259.3V254.8M219.1 184V188.5M225.9 259.3V256.8M225.9 184V186.5M232.8 259.3V256.8M232.8 184V186.5M239.7 259.3V256.8M239.7 184V186.5M246.5 259.3V256.8M246.5 184V186.5M253.4 259.3V254.8M253.4 184V188.5M260.3 259.3V256.8M260.3 184V186.5M267.1 259.3V256.8M267.1 184V186.5M274 259.3V256.8M274 184V186.5M280.9 259.3V256.8M280.9 184V186.5M287.8 259.3V254.8M287.8 184V188.5M294.6 259.3V256.8M294.6 184V186.5M301.5 259.3V256.8M301.5 184V186.5M308.4 259.3V256.8M308.4 184V186.5M315.2 259.3V256.8M315.2 184V186.5M322.1 259.3V254.8M322.1 184V188.5M47.3 259.3H51.8M322.1 259.3H317.6M47.3 251.8H49.8M322.1 251.8H319.6M47.3 244.2H49.8M322.1 244.2H319.6M47.3 236.7H49.8M322.1 236.7H319.6M47.3 229.2H49.8M322.1 229.2H319.6M47.3 221.7H51.8M322.1 221.7H317.6M47.3 214.1H49.8M322.1 214.1H319.6M47.3 206.6H49.8M322.1 206.6H319.6M47.3 199.1H49.8M322.1 199.1H319.6M47.3 191.5H49.8M322.1 191.5H319.6M47.3 184H51.8M322.1 184H317.6" stroke="#000" stroke-width="1.1" fill="none"/>
<rect x="47.3" y="184" width="274.8" height="75.3" fill="none" stroke="#000" stroke-width="1.6"/>
<text x="41.6" y="262.8" font-size="9.8" text-anchor="end">0</text>
<text x="41.6" y="225.2" font-size="9.8" text-anchor="end">1</text>
<text x="41.6" y="187.5" font-size="9.8" text-anchor="end">2</text>
<text x="151" y="244" font-size="8.4" text-anchor="middle">PINI</text><text x="151" y="251.8" font-size="8.4" text-anchor="middle">5+6</text>
<text x="204.2" y="253" font-size="8.4" text-anchor="middle">3+4</text>
<text x="262.6" y="244" font-size="8.4" text-anchor="middle">PINI</text><text x="262.6" y="251.8" font-size="8.4" text-anchor="middle">1+2</text>
<text x="201.0" y="224.8" font-size="8.6" text-anchor="middle">Off-axis</text>
<text x="202.4" y="234.3" font-size="8.6" text-anchor="middle">normal PINIs</text>
<text x="59.2" y="206" font-size="9.7"><tspan font-weight="normal" font-size="10.5">×</tspan> 10<tspan font-size="6.8" dy="-4.2">14</tspan><tspan dy="4.2" dx="0.6"> n/s</tspan></text>
<text x="48.7" y="273.5" font-size="10" text-anchor="middle">7</text>
<text x="83.1" y="273.5" font-size="10" text-anchor="middle">8</text>
<text x="117.4" y="273.5" font-size="10" text-anchor="middle">9</text>
<text x="150.3" y="273.5" font-size="10" text-anchor="middle">10</text>
<text x="184.6" y="273.5" font-size="10" text-anchor="middle">11</text>
<text x="219" y="273.5" font-size="10" text-anchor="middle">12</text>
<text x="253.3" y="273.5" font-size="10" text-anchor="middle">13</text>
<text x="287.6" y="273.5" font-size="10" text-anchor="middle">14</text>
<text x="322" y="273.5" font-size="10" text-anchor="middle">15</text>
<text x="156.4" y="290" font-size="12.2">Time, <tspan font-style="italic">t</tspan> (s)</text>
<text transform="translate(9.8,48.2) rotate(-90)" font-size="10.9" text-anchor="middle"><tspan font-style="italic">P</tspan><tspan font-size="8.6" dy="3">aux.</tspan><tspan dy="-3"> (MW)</tspan></text>
<text transform="translate(10,134) rotate(-90)" font-size="10.8" text-anchor="middle"><tspan font-style="italic">T</tspan><tspan font-size="8.7" dy="2.8">e0</tspan><tspan dy="-2.8"> (keV)</tspan></text>
<text transform="translate(10.6,221) rotate(-90)" font-size="11.2" text-anchor="middle">Neutron rate</text>
<path d="M401.6 66.8 L402.4 64.9 L403.2 64.7 L404 63.6 L404.8 62.6 L405 62.1 L405.6 61.1 L406.4 60.8 L407.2 59.9 L408 58.9 L408.8 58.3 L409.6 56.9 L409.9 56.3 L410.4 56.3 L411.2 55.7 L411.3 55 L412 57 L412.7 58.6 L412.8 57.7 L413.6 56.6 L414.4 55.2 L415.2 53.5 L416 51.7 L416 51.8 L416.8 51.3 L417.6 50.4 L418.4 49.1 L419.2 47.8 L420 47.5 L420.8 46.5 L421.6 45 L422.4 44.4 L422.7 44.4 L423.2 43.9 L424 42.7 L424.8 41.8 L425.6 41.1 L426.4 39.8 L427.2 39 L428 38.2 L428 38.7 L428.8 37.8 L429.6 37.4 L430.4 36.6 L431.2 36.2 L432 35.2 L432.8 34.5 L433.6 34.9 L434 34 L434.4 33.5 L435.2 33.6 L436 33.4 L436.8 32.3 L437.6 32.4 L438.4 31.7 L439.2 31.5 L440 30.5 L440.8 30.1 L441.6 30.7 L442 30.4 L442.4 29.9 L443.2 29.7 L444 29.1 L444.8 29.3 L445.6 28.7 L446.4 29 L447.2 28.5 L448 28.3 L448.8 28.2 L449.6 27.2 L450.4 26.7 L451 26.7 L451.2 26.6 L452 26.3 L452.8 26.1 L453.6 26.3 L454.4 26.4 L455.2 25.8 L456 26.1 L456.8 25.8 L457.6 24.7 L458.4 25 L459.2 24.6 L460 24.1 L460 25 L460.8 24.1 L461.6 24.2 L462.4 24.1 L463.2 24.2 L464 23.8 L464.8 23.3 L465.6 23.2 L466.4 22.7 L467.2 23.3 L468 23.2 L468 22.4 L468.8 22.2 L469.6 22.3 L470.4 22.3 L471.2 22.8 L472 22.7 L472.8 22.6 L473.6 21.7 L474.4 22.3 L475 22.2 L475.2 22.1 L476 22.5 L476.8 21.5 L477.6 21.6 L478.4 22.2 L479.2 22.4 L480 22.1 L480.8 21.7 L481.6 22 L482.2 22.2 L482.4 21.5 L483.2 21.9 L484 21.9 L484.8 21.9 L485.6 22.4 L486.4 22.2 L487.2 22.3 L488 22.4 L488.8 23 L489.6 22.5 L490 23.2 L490.4 22.7 L491.2 22.6 L492 23.5 L492.8 22.9 L493.6 23.6 L494.4 23.6 L495.2 23.7 L496 23 L496.8 23.4 L497.6 23.1 L498.4 23.9 L499.2 23.9 L500 23.7 L500 23.6 L500.8 23.5 L501.6 24 L502.4 23.7 L503.2 23.8 L504 23.4 L504.8 23.5 L505.6 23.3 L506.4 24 L507.2 23.9 L508 23.5 L508.8 24.3 L509.6 23.7 L510.4 23.9 L511.2 23.6 L512 23.8 L512.8 24.4 L513.6 23.9 L514.4 23.8 L515.2 24.1 L516 24 L516.8 24.6 L517.6 23.8 L517.7 24.7 L518.4 23.8 L519.2 24.8 L520 24.6 L520.8 24.2 L521.6 24.6 L522.4 24.5 L523.2 24.5 L524 24.6 L524.8 24.8 L525.6 25.5 L526.4 25.6 L527.2 25.6 L528 24.9 L528.8 25.2 L529.6 25.9 L530 25.1 L530.4 25.8 L531.2 25.4 L532 26.1 L532.8 25.2 L533.6 26.1 L534.4 25.7 L535.2 25.5 L536 25.5 L536.8 26.4 L537.6 26.1 L538.4 25.8 L539.2 26.1 L540 26.7 L540.8 26 L541.6 26.5 L541.8 26 L542.4 59.5 L542.6 71.2 L543.2 71.1 L543.2 70.6 L544 69.5 L544.8 68.5 L545.6 68.1 L546.4 67 L547.2 65.8 L548 64.7 L548 65.1 L548.8 64.5 L549.6 63.9 L550.4 63 L551.2 61.9 L552 61.1 L552 61.7 L552.8 60.8 L553.6 60.5 L554.4 59.2 L554.5 59.9 L555.2 58.1 L556 57.1 L556 57.2 L556.6 61 L556.8 60 L557.6 59.1 L558.4 56.7 L559.2 55.3 L560 52.8 L560 52.7 L560.8 52.5 L561.6 51.2 L562.4 50.1 L563.2 49.5 L564 48.8 L564.8 47.4 L565.6 47 L565.8 46.7 L566.4 46.4 L567.2 45.3 L568 45.3 L568.8 44.8 L569.6 44.2 L570.4 43.1 L571.2 42.8 L572 41.9 L572 42.3 L572.8 41.2 L573.6 41.6 L574.4 41.3 L575.2 40.5 L576 40.2 L576.8 39.8 L577.6 39.4 L578.4 38.6 L579.2 39.1 L580 38 L580 38 L580.8 37.9 L581.6 38.1 L582.4 38.7 L583.2 38 L584 38.1 L584.8 38.8 L585.6 38.3 L586.4 38.2 L587.2 38.8 L588 38.8 L588.8 38.8 L589.6 39 L590.4 38.5 L591.2 39.3 L591.3 39.1 L592 38.6 L592.8 38.8 L593.6 39.3 L594.4 39.4 L595.2 39.3 L596 39.3 L596.8 39.7 L597.6 39.6 L598 40.1 L598.4 40.4 L599.2 39.9 L600 40.5 L600.8 40.8 L601.6 40.4 L602.4 41.2 L603.2 41.5 L604 41.1 L604.1 41.1 L604.6 67 L604.8 66.7 L605.5 66.6 L605.6 67 L606.4 66 L607.2 64.7 L608 63.7 L608.8 62.9 L609.6 62.2 L610.4 61.8 L611.2 60.8" fill="none" stroke="#F01010" stroke-width="1.5" stroke-linejoin="round"/>
<path d="M401.6 68.4 L402.4 68.2 L403.2 68.1 L404 67.2 L404.8 67.6 L405.6 67.9 L406.4 67.8 L407.2 67 L408 67.1 L408.8 67.2 L409.6 66.8 L410.4 66.8 L411.2 66.3 L411.3 66.6 L412 66.5 L412.8 65.8 L413.6 65.7 L414.4 66.2 L415.2 65.8 L416 65.7 L416.8 65.2 L417.6 65.1 L418.4 65 L419.2 64.7 L420 63.6 L420.8 64 L421.6 63.4 L422.4 63.6 L422.7 63.1 L423.2 68.3 L423.6 72.7 L424 72.4 L424.5 72.1 L424.8 72.3 L425.6 72 L426.4 72.4 L427.2 71.5 L428 71.4 L428.8 71.5 L429.6 70.9 L430.4 71.2 L431.2 71.4 L432 70.7 L432.8 70.3 L433.6 70.4 L434.4 70.3 L435.2 69.7 L436 69.5 L436.8 69.4 L437.6 69.3 L438.4 69.3 L439.2 69 L440 68.8 L440.8 68.5 L441.6 68.8 L442.4 68.9 L443.2 68.5 L444 68.3 L444.8 68.2 L445 67.7 L445.6 68.1 L446.4 67.7 L447.2 67.6 L448 67.5 L448.8 67.1 L449.6 66.8 L450.4 66.6 L451.2 66.4 L452 66.5 L452.8 66.2 L453.6 66.2 L454.4 65.5 L455.2 65.6 L456 66 L456.8 65.2 L457.6 65.3 L458.4 65.1 L459.2 64.7 L460 65.2 L460.8 64.4 L461.6 64.7 L462.4 63.9 L463.2 63.6 L464 64.2 L464.8 63.6 L465.6 63.1 L466.4 63.2 L466.6 63.2 L467.2 69.9 L467.4 71.4 L468 71.5 L468.2 72.3 L468.8 72 L469.6 71.3 L470.4 71.4 L471.2 71.3 L472 71.6 L472.8 71.4 L473.6 71.6 L474.4 71.5 L475.2 71.1 L476 71.2 L476.8 71.1 L477.6 71.1 L478.4 70.7 L479.2 70.9 L480 70.7 L480.8 70.9 L481.6 70 L482.4 70.6 L483.2 69.7 L484 70.4 L484.8 70.1 L485 70 L485.6 70.4 L486.4 70 L487.2 69.8 L488 70.1 L488.8 70.1 L489.6 69.8 L490.4 69.5 L491.2 69.5 L492 69.4 L492.8 69.7 L493.6 69.2 L494.4 69.2 L495.2 69.3 L496 69.1 L496.8 69 L497.6 69.4 L498.4 69.4 L499.2 69 L500 68.8 L500 68.6 L500.8 68.6 L501.6 68.3 L502.4 68.7 L503.2 68.6 L504 68 L504.8 68.7 L505.6 68 L506.3 68.4 L506.4 69.1 L507.2 74.9 L507.5 76.3 L508 76.5 L508 77 L508.8 76 L509.6 75.9 L510.4 76.4 L511.2 76.2 L512 76.5 L512.8 76.3 L513.6 75.9 L514.4 76.3 L515.2 75.7 L516 75.6 L516.8 75.7 L517.6 75.3 L518.4 75.1 L519.2 75.3 L520 74.9 L520.8 75.4 L521.6 75 L522.4 74.8 L523.2 74.3 L524 74.4 L524.8 74.4 L525.6 74.4 L526.4 74.3 L527.2 74.5 L528 74.5 L528.8 73.9 L529.6 73.8 L530.4 73.9 L531.2 74.1 L532 73.4 L532.8 73.5 L533.6 73.7 L534.4 72.9 L535.2 73 L536 73.5 L536.8 73.3 L537.6 72.8 L538.4 72.3 L539.2 73 L540 72.7 L540.8 72.7 L541.6 72.8 L541.8 72.7 L542.4 77.9 L542.4 77.7 L543 77.8 L543.2 78 L544 77.9 L544.8 77.5 L545.6 77.4 L546.4 77.7 L547.2 77.6 L548 77.2 L548.8 77.8 L549.6 77.3 L550.4 76.6 L551.2 76.9 L552 77.2 L552.8 76.6 L553.6 76.9 L554.4 76.1 L555.2 76.3 L556 76.7 L556.8 76.4 L557.6 76.4 L558.4 75.8 L559.2 76 L560 76 L560.8 75.6 L561.6 75.9 L562.4 75.6 L563.2 76 L564 75.5 L564.8 75.2 L565.6 74.8 L565.8 74.9 L566.4 76.8 L567.2 77.9 L567.5 78.5 L568 78.6 L568.5 78.9 L568.8 79.2 L569.6 78.9 L570.4 79 L571.2 78.1 L572 78 L572.8 78.6 L573.6 78.1 L574.4 78.4 L575.2 77.9 L576 77.6 L576.8 77.6 L577.6 77.4 L578.4 78.1 L579.2 77.6 L580 77.3 L580.8 77.3 L581.6 77.1 L582.4 76.7 L583.2 77.4 L584 77 L584.8 77.3 L585.6 76.7 L586.4 76.8 L587.2 76.3 L588 76 L588.8 76.8 L589.6 76.6 L590.4 76 L591.2 76.4 L592 76.3 L592.8 75.6 L593.6 75.8 L594.4 76.1 L595.2 75.5 L596 75.9 L596.8 75.1 L597.6 75.1 L598.4 75.4 L599.2 74.8 L600 74.7 L600.8 75.2 L601.6 74.7 L602.4 74.9 L602.7 74.3 L603.2 77.4 L603.7 80.7 L604 80.5 L604.5 81.3 L604.8 80.5 L605.6 80.7 L606.4 80.1 L607.2 80.3 L608 80 L608.8 79.9 L609.6 79.4 L610.4 79.3 L611.2 79.9" fill="none" stroke="#1010F0" stroke-width="1.5" stroke-linejoin="round"/>
<path d="M543.2 12.2V92.7M543.2 99.7V261.3" stroke="#000" stroke-width="0.9" stroke-dasharray="1.2 1.3" fill="none"/>
<path d="M401.1 92.7V88.2M401.1 12.2V16.7M411.5 92.7V90.2M411.5 12.2V14.7M421.9 92.7V90.2M421.9 12.2V14.7M432.3 92.7V90.2M432.3 12.2V14.7M442.6 92.7V90.2M442.6 12.2V14.7M453 92.7V88.2M453 12.2V16.7M463.4 92.7V90.2M463.4 12.2V14.7M473.7 92.7V90.2M473.7 12.2V14.7M484.1 92.7V90.2M484.1 12.2V14.7M494.5 92.7V90.2M494.5 12.2V14.7M504.9 92.7V88.2M504.9 12.2V16.7M515.2 92.7V90.2M515.2 12.2V14.7M525.6 92.7V90.2M525.6 12.2V14.7M536 92.7V90.2M536 12.2V14.7M546.3 92.7V90.2M546.3 12.2V14.7M556.7 92.7V88.2M556.7 12.2V16.7M567.1 92.7V90.2M567.1 12.2V14.7M577.4 92.7V90.2M577.4 12.2V14.7M587.8 92.7V90.2M587.8 12.2V14.7M598.2 92.7V90.2M598.2 12.2V14.7M608.5 92.7V88.2M608.5 12.2V16.7M401.7 92.7H406.2M612.8 92.7H608.3M401.7 87.3H404.2M612.8 87.3H610.3M401.7 82H404.2M612.8 82H610.3M401.7 76.6H404.2M612.8 76.6H610.3M401.7 71.2H404.2M612.8 71.2H610.3M401.7 65.9H406.2M612.8 65.9H608.3M401.7 60.5H404.2M612.8 60.5H610.3M401.7 55.1H404.2M612.8 55.1H610.3M401.7 49.8H404.2M612.8 49.8H610.3M401.7 44.4H404.2M612.8 44.4H610.3M401.7 39H406.2M612.8 39H608.3M401.7 33.7H404.2M612.8 33.7H610.3M401.7 28.3H404.2M612.8 28.3H610.3M401.7 22.9H404.2M612.8 22.9H610.3M401.7 17.6H404.2M612.8 17.6H610.3M401.7 12.2H406.2M612.8 12.2H608.3" stroke="#000" stroke-width="1.1" fill="none"/>
<rect x="401.7" y="12.2" width="211.1" height="80.5" fill="none" stroke="#000" stroke-width="1.6"/>
<text x="395.4" y="96.5" font-size="10.6" text-anchor="end">1</text>
<text x="395.4" y="69.7" font-size="10.6" text-anchor="end">2</text>
<text x="395.4" y="42.8" font-size="10.6" text-anchor="end">3</text>
<text x="395.4" y="16" font-size="10.6" text-anchor="end">4</text>
<text x="408" y="28.3" font-size="10">(b)</text>
<text x="401.3" y="8.2" font-size="8.4">#91255: neutron decay time</text>
<text transform="translate(360.8,51.8) rotate(-90)" font-size="11.8" text-anchor="middle"><tspan font-style="italic">T</tspan><tspan font-size="9" dy="3.3">e0</tspan><tspan dy="-3.3"> (keV)</tspan></text>
<path d="M453.1 124.1 L453.5 131.7 L453.9 138.9 L454.3 145.7 L454.7 152.1 L455.1 158.2 L455.5 163.9 L455.9 169.3 L456.3 174.4 L456.7 179.3 L457.1 183.8 L457.5 188.1 L457.9 192.2 L458.3 196 L458.7 199.7 L459.1 203.1 L459.5 206.3 L459.9 209.4 L460.3 212.2 L460.7 215 L461.1 217.5 L461.5 220 L461.9 222.3 L462.3 224.4 L462.7 226.5 L463.1 228.4 L463.5 230.2 L463.9 232 L464.3 233.6 L464.7 235.1 L465.1 236.6 L465.5 238 L465.9 239.3 L466.3 240.5 L466.7 241.6 L467.1 242.7 L467.5 243.8 L467.9 244.7 L468.3 245.7 L468.7 246.5 L469.1 247.3 L469.5 248.1 L469.9 248.9 L470.3 249.5 L470.7 250.2 L471.1 250.8 L471.5 251.4 L471.9 251.9 L472.3 252.5 L472.7 253 L473.1 253.4 L473.5 253.9 L473.9 254.3 L474.3 254.7 L474.7 255 L475.1 255.4 L475.5 255.7 L475.9 256 L476.3 256.3 L476.7 256.6 L477.1 256.9 L477.5 257.1 L477.9 257.3 L478.3 257.6 L478.7 257.8 L479.1 258 L479.5 258.1 L479.9 258.3 L480.3 258.5 L480.7 258.6 L481.1 258.8 L481.5 258.9 L481.9 259.1 L482.3 259.2 L482.7 259.3 L483.1 259.4 L483.5 259.5 L483.9 259.6 L484.3 259.7 L484.7 259.8 L485.1 259.9 L485.5 260 L485.9 260 L486.3 260.1 L486.7 260.2 L487.1 260.2 L487.5 260.3 L487.9 260.3 L488.3 260.4 L488.7 260.5 L489.1 260.5 L489.5 260.5 L489.9 260.6 L490.3 260.6 L492.3 260.8 L494.3 260.9 L496.3 261 L498.3 261.1 L500.3 261.1 L502.3 261.2 L504.3 261.2 L506.3 261.2 L508.3 261.2 L510.3 261.3 L512.3 261.3 L514.3 261.3 L516.3 261.3 L518.3 261.3 L520.3 261.3 L522.3 261.3 L524.3 261.3 L526.3 261.3 L528.3 261.3 L530.3 261.3 L532.3 261.3 L534.3 261.3 L536.3 261.3 L538.3 261.3 L540.3 261.3 L542.3 261.3 L544.3 261.3 L546.3 261.3 L548.3 261.3 L550.3 261.3 L552.3 261.3 L554.3 261.3 L556.3 261.3 L558.3 261.3 L560.3 261.3 L562.3 261.3 L564.3 261.3 L566.3 261.3 L568.3 261.3 L570.3 261.3 L572.3 261.3 L574.3 261.3 L576.3 261.3 L578.3 261.3 L580.3 261.3 L582.3 261.3 L584.3 261.3 L586.3 261.3 L588.3 261.3 L590.3 261.3 L592.3 261.3 L594.3 261.3 L596.3 261.3 L598.3 261.3 L600.3 261.3 L602.3 261.3 L604.3 261.3 L606.3 261.3 L608.3 261.3 L610.3 261.3 L612.3 261.3" fill="none" stroke="#5a6af8" stroke-width="1.0"/>
<path d="M453.1 124.1 L455.1 125.9 L457.1 127.7 L459.1 129.5 L461.1 131.2 L463.1 132.9 L465.1 134.6 L467.1 136.3 L469.1 137.9 L471.1 139.6 L473.1 141.2 L475.1 142.8 L477.1 144.3 L479.1 145.9 L481.1 147.4 L483.1 148.9 L485.1 150.4 L487.1 151.9 L489.1 153.3 L491.1 154.7 L493.1 156.1 L495.1 157.5 L497.1 158.9 L499.1 160.3 L501.1 161.6 L503.1 162.9 L505.1 164.2 L507.1 165.5 L509.1 166.8 L511.1 168 L513.1 169.2 L515.1 170.5 L517.1 171.7 L519.1 172.8 L521.1 174 L523.1 175.2 L525.1 176.3 L527.1 177.4 L529.1 178.5 L531.1 179.6 L533.1 180.7 L535.1 181.8 L537.1 182.8 L539.1 183.9 L541.1 184.9 L543.1 185.9 L545.1 186.9 L547.1 187.9" fill="none" stroke="#f03030" stroke-width="0.95"/>
<path d="M547 197 L549 199.3 L551 201.6 L553 203.8 L555 205.9 L557 207.9 L559 209.9 L561 211.8 L563 213.6 L565 215.4 L567 217.1 L569 218.7 L571 220.2 L573 221.8 L575 223.2 L577 224.6 L579 226 L581 227.3 L583 228.5 L585 229.7 L587 230.9 L589 232 L591 233.1 L593 234.1 L595 235.1 L597 236.1 L599 237 L601 237.9 L603 238.7 L605 239.6 L607 240.4 L609 241.1 L611 241.9" fill="none" stroke="#f03030" stroke-width="0.95"/>
<g fill="none" stroke="#ff5050" stroke-width="0.9"><circle cx="403.5" cy="103.6" r="1.2"/><circle cx="406.3" cy="105.3" r="1.2"/><circle cx="408.1" cy="106.4" r="1.2"/><circle cx="410.1" cy="107.5" r="1.2"/><circle cx="413.3" cy="111.3" r="1.2"/><circle cx="416.5" cy="118.3" r="1.2"/><circle cx="419.3" cy="115.5" r="1.2"/><circle cx="422.4" cy="117.2" r="1.2"/><circle cx="425.2" cy="123.9" r="1.2"/><circle cx="428.7" cy="126.7" r="1.2"/><circle cx="431.9" cy="128.1" r="1.2"/><circle cx="434.7" cy="131.6" r="1.2"/><circle cx="437.8" cy="131.6" r="1.2"/><circle cx="440.8" cy="127.4" r="1.2"/><circle cx="444.1" cy="131.6" r="1.2"/><circle cx="447.3" cy="126.4" r="1.2"/><circle cx="450.3" cy="129.9" r="1.2"/><circle cx="459" cy="131.4" r="1.2"/><circle cx="462.5" cy="134.2" r="1.2"/><circle cx="466.5" cy="132.5" r="1.2"/><circle cx="468.4" cy="136" r="1.2"/><circle cx="471.9" cy="141.9" r="1.2"/><circle cx="474.7" cy="143" r="1.2"/><circle cx="477.7" cy="144.2" r="1.2"/><circle cx="481.3" cy="150.1" r="1.2"/><circle cx="484" cy="151" r="1.2"/><circle cx="488" cy="155" r="1.2"/><circle cx="491" cy="156" r="1.2"/><circle cx="496" cy="158" r="1.2"/><circle cx="500" cy="162" r="1.2"/><circle cx="503" cy="163" r="1.2"/><circle cx="507" cy="167" r="1.2"/><circle cx="510" cy="166" r="1.2"/><circle cx="514" cy="171" r="1.2"/><circle cx="518" cy="172" r="1.2"/><circle cx="522" cy="176" r="1.2"/><circle cx="526" cy="176" r="1.2"/><circle cx="530" cy="180" r="1.2"/><circle cx="534" cy="181" r="1.2"/><circle cx="538" cy="183" r="1.2"/><circle cx="546.5" cy="194.5" r="1.2"/><circle cx="550.5" cy="203.3" r="1.2"/><circle cx="552.8" cy="205.7" r="1.2"/><circle cx="555.2" cy="209.2" r="1.2"/><circle cx="558.7" cy="211.5" r="1.2"/><circle cx="561" cy="217.3" r="1.2"/><circle cx="564.5" cy="218.5" r="1.2"/><circle cx="568" cy="219.7" r="1.2"/><circle cx="572.7" cy="223.2" r="1.2"/><circle cx="576.2" cy="224.8" r="1.2"/><circle cx="580.8" cy="229" r="1.2"/><circle cx="586.7" cy="230.2" r="1.2"/><circle cx="592.5" cy="234.8" r="1.2"/><circle cx="598.3" cy="237.2" r="1.2"/><circle cx="604.2" cy="238.3" r="1.2"/><circle cx="608.8" cy="238.3" r="1.2"/><circle cx="600" cy="236" r="1.2"/><circle cx="595" cy="235" r="1.2"/><circle cx="589" cy="232" r="1.2"/><circle cx="583" cy="229" r="1.2"/></g>
<path d="M403.1 139.8L404.4 141.4L403.1 143L401.8 141.4ZM407 129.5L408.3 131.1L407 132.7L405.7 131.1ZM410.1 120.5L411.4 122.1L410.1 123.7L408.8 122.1ZM413.3 117.8L414.6 119.4L413.3 121L412 119.4ZM416.5 123.7L417.8 125.3L416.5 126.9L415.2 125.3ZM419.6 117.4L420.9 119L419.6 120.6L418.3 119ZM422.4 108.3L423.7 109.9L422.4 111.5L421.1 109.9ZM425.2 122.3L426.5 123.9L425.2 125.5L423.9 123.9ZM428.7 125.1L430 126.7L428.7 128.3L427.4 126.7ZM431.9 130.2L433.2 131.8L431.9 133.4L430.6 131.8ZM435 123L436.3 124.6L435 126.2L433.7 124.6ZM437.8 119.1L439.1 120.7L437.8 122.3L436.5 120.7ZM440.8 127.9L442.1 129.5L440.8 131.1L439.5 129.5ZM444.1 113.9L445.4 115.5L444.1 117.1L442.8 115.5ZM447.3 119.1L448.6 120.7L447.3 122.3L446 120.7ZM450.3 130.9L451.6 132.5L450.3 134.1L449 132.5ZM456 163.7L457.3 165.3L456 166.9L454.7 165.3ZM459.3 201.1L460.6 202.7L459.3 204.3L458 202.7ZM462.1 226L463.4 227.6L462.1 229.2L460.8 227.6ZM465.5 239.3L466.8 240.9L465.5 242.5L464.2 240.9ZM468.3 245L469.6 246.6L468.3 248.2L467 246.6ZM471.7 252.6L473 254.2L471.7 255.8L470.4 254.2ZM475.4 254.9L476.7 256.5L475.4 258.1L474.1 256.5ZM481 257.2L482.3 258.8L481 260.4L479.7 258.8ZM484 257.6L485.3 259.2L484 260.8L482.7 259.2ZM487.3 257.4L488.6 259L487.3 260.6L486 259ZM490.6 257.3L491.9 258.9L490.6 260.5L489.3 258.9ZM493.9 257.5L495.2 259.1L493.9 260.7L492.6 259.1ZM497.2 257.4L498.5 259L497.2 260.6L495.9 259ZM500.5 257.1L501.8 258.7L500.5 260.3L499.2 258.7ZM503.8 258L505.1 259.6L503.8 261.2L502.5 259.6ZM507.1 257.5L508.4 259.1L507.1 260.7L505.8 259.1ZM510.4 257.3L511.7 258.9L510.4 260.5L509.1 258.9ZM513.7 258L515 259.6L513.7 261.2L512.4 259.6ZM517 257.2L518.3 258.8L517 260.4L515.7 258.8ZM520.3 257.5L521.6 259.1L520.3 260.7L519 259.1ZM523.6 258.2L524.9 259.8L523.6 261.4L522.3 259.8ZM526.9 257.3L528.2 258.9L526.9 260.5L525.6 258.9ZM530.2 257.7L531.5 259.3L530.2 260.9L528.9 259.3ZM533.5 258.2L534.8 259.8L533.5 261.4L532.2 259.8ZM536.8 258.1L538.1 259.7L536.8 261.3L535.5 259.7ZM540.1 257.3L541.4 258.9L540.1 260.5L538.8 258.9ZM543.4 257.6L544.7 259.2L543.4 260.8L542.1 259.2ZM546.7 258L548 259.6L546.7 261.2L545.4 259.6ZM550 257.6L551.3 259.2L550 260.8L548.7 259.2ZM553.3 258.3L554.6 259.9L553.3 261.5L552 259.9ZM556.6 257.4L557.9 259L556.6 260.6L555.3 259ZM559.9 258.3L561.2 259.9L559.9 261.5L558.6 259.9ZM563.2 257.8L564.5 259.4L563.2 261L561.9 259.4ZM566.5 257.4L567.8 259L566.5 260.6L565.2 259ZM569.8 257.7L571.1 259.3L569.8 260.9L568.5 259.3ZM573.1 257.3L574.4 258.9L573.1 260.5L571.8 258.9ZM576.4 258L577.7 259.6L576.4 261.2L575.1 259.6ZM579.7 257.4L581 259L579.7 260.6L578.4 259ZM583 258.3L584.3 259.9L583 261.5L581.7 259.9ZM586.3 257.9L587.6 259.5L586.3 261.1L585 259.5ZM589.6 257.6L590.9 259.2L589.6 260.8L588.3 259.2ZM592.9 257.4L594.2 259L592.9 260.6L591.6 259ZM596.2 257.9L597.5 259.5L596.2 261.1L594.9 259.5ZM599.5 257.4L600.8 259L599.5 260.6L598.2 259ZM602.8 258.2L604.1 259.8L602.8 261.4L601.5 259.8ZM606.1 257.3L607.4 258.9L606.1 260.5L604.8 258.9ZM609.4 257.8L610.7 259.4L609.4 261L608.1 259.4Z" fill="none" stroke="#5060ff" stroke-width="0.9"/>
<circle cx="453.2" cy="124.2" r="2.3" fill="#000"/>
<path d="M480 108.8L481.9 111L480 113.2L478.1 111Z" fill="none" stroke="#3040ff" stroke-width="1"/>
<circle cx="480" cy="122.4" r="1.7" fill="none" stroke="#ff3030" stroke-width="1"/>
<text x="501.5" y="114.2" font-size="8">NBI:</text>
<text x="501.5" y="125" font-size="8">ICRF+NBI:</text>
<text x="548.2" y="114.2" font-size="8"><tspan font-style="italic">t</tspan><tspan font-size="6" dy="2">NBI, off</tspan><tspan dy="-2"> = 8.6s</tspan></text>
<text x="548.2" y="125" font-size="8"><tspan font-style="italic">t</tspan><tspan font-size="6" dy="2">NBI, off</tspan><tspan dy="-2"> = 13.4s</tspan></text>
<text x="492.8" y="146" font-size="8.5" fill="#ff1010">τ<tspan font-size="6.5" dy="2.5">n</tspan><tspan dy="-2.5"> ≈ 300ms</tspan></text>
<text x="560.7" y="203.2" font-size="8.5" fill="#ff1010">τ<tspan font-size="6.5" dy="2.5">n</tspan><tspan dy="-2.5"> ≈ 100ms</tspan></text>
<text x="411.7" y="195.2" font-size="8.5" fill="#2030e8">τ<tspan font-size="6.5" dy="2.5">n</tspan><tspan dy="-2.5"> ≈ 13ms</tspan></text>
<path d="M401.1 261.3V256.8M401.1 99.7V104.2M411.5 261.3V258.8M411.5 99.7V102.2M421.9 261.3V258.8M421.9 99.7V102.2M432.3 261.3V258.8M432.3 99.7V102.2M442.6 261.3V258.8M442.6 99.7V102.2M453 261.3V256.8M453 99.7V104.2M463.4 261.3V258.8M463.4 99.7V102.2M473.7 261.3V258.8M473.7 99.7V102.2M484.1 261.3V258.8M484.1 99.7V102.2M494.5 261.3V258.8M494.5 99.7V102.2M504.9 261.3V256.8M504.9 99.7V104.2M515.2 261.3V258.8M515.2 99.7V102.2M525.6 261.3V258.8M525.6 99.7V102.2M536 261.3V258.8M536 99.7V102.2M546.3 261.3V258.8M546.3 99.7V102.2M556.7 261.3V256.8M556.7 99.7V104.2M567.1 261.3V258.8M567.1 99.7V102.2M577.4 261.3V258.8M577.4 99.7V102.2M587.8 261.3V258.8M587.8 99.7V102.2M598.2 261.3V258.8M598.2 99.7V102.2M608.5 261.3V256.8M608.5 99.7V104.2M401.7 261.3H406.2M612.8 261.3H608.3M401.7 247.6H404.2M612.8 247.6H610.3M401.7 233.9H406.2M612.8 233.9H608.3M401.7 220.1H404.2M612.8 220.1H610.3M401.7 206.4H406.2M612.8 206.4H608.3M401.7 192.7H404.2M612.8 192.7H610.3M401.7 179H406.2M612.8 179H608.3M401.7 165.3H404.2M612.8 165.3H610.3M401.7 151.5H406.2M612.8 151.5H608.3M401.7 137.8H404.2M612.8 137.8H610.3M401.7 124.1H406.2M612.8 124.1H608.3M401.7 110.4H404.2M612.8 110.4H610.3" stroke="#000" stroke-width="1.1" fill="none"/>
<rect x="401.7" y="99.7" width="211.1" height="161.6" fill="none" stroke="#000" stroke-width="1.6"/>
<text x="395.4" y="265.1" font-size="10.6" text-anchor="end">0.0</text>
<text x="395.4" y="237.7" font-size="10.6" text-anchor="end">0.2</text>
<text x="395.4" y="210.2" font-size="10.6" text-anchor="end">0.4</text>
<text x="395.4" y="182.8" font-size="10.6" text-anchor="end">0.6</text>
<text x="395.4" y="155.3" font-size="10.6" text-anchor="end">0.8</text>
<text x="395.4" y="127.9" font-size="10.6" text-anchor="end">1.0</text>
<text transform="translate(362.8,180.3) rotate(-90)" font-size="12.3" text-anchor="middle">Normalized neutron rate</text>
<text x="400.2" y="277.2" font-size="10.8" text-anchor="middle">-0.1</text>
<text x="453" y="277.2" font-size="10.8" text-anchor="middle">0.0</text>
<text x="504.9" y="277.2" font-size="10.8" text-anchor="middle">0.1</text>
<text x="556.7" y="277.2" font-size="10.8" text-anchor="middle">0.2</text>
<text x="608.5" y="277.2" font-size="10.8" text-anchor="middle">0.3</text>
<text x="469.6" y="293.3" font-size="12.8"><tspan font-style="italic">t</tspan> - <tspan font-style="italic">t</tspan><tspan font-size="10" dy="3.2">NBI, off</tspan><tspan dy="-3.2"> (s)</tspan></text>
</g></svg>
</body></html>
